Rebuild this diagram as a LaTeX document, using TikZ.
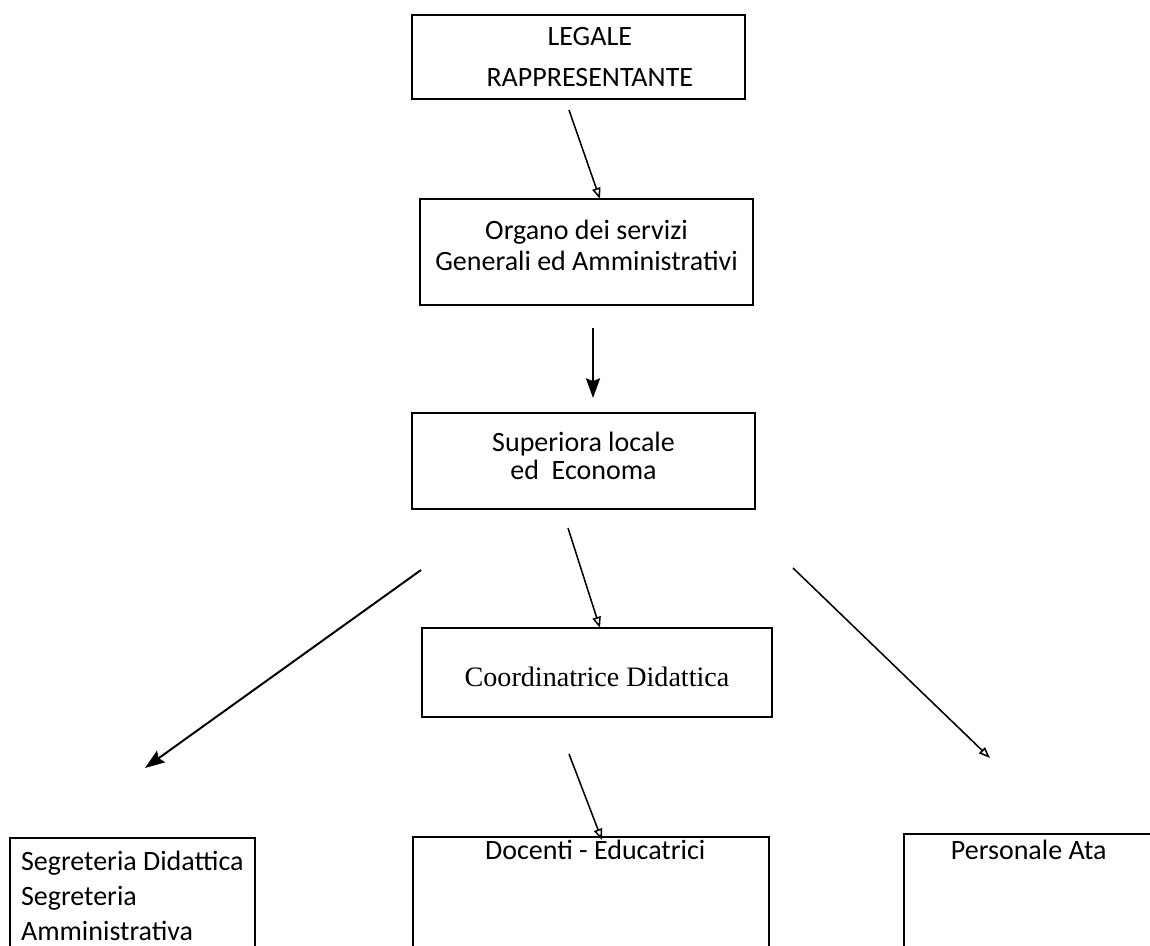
\documentclass[tikz,border=0pt]{standalone}
\usepackage{fontspec}
\setmainfont{Carlito}
\newfontfamily\serifrm{Liberation Serif}
\usetikzlibrary{arrows.meta,positioning}

\tikzset{
  box/.style={draw,line width=1.6pt,inner sep=0pt},
  txt/.style={inner sep=0pt,font=\fontsize{19.9}{22}\selectfont},
  link/.style={line width=1.1pt,-{Triangle[open,length=8pt,width=6pt]}},
  fatlink/.style={line width=1.4pt,-{Stealth[length=14pt,width=10pt,inset=2pt]}},
}

\begin{document}
\begin{tikzpicture}[x=0.025cm,y=-0.025cm]
  \useasboundingbox (0,0) rectangle (1150,946);

  %top chain
  \node[box,minimum width=8.325cm,minimum height=2.1cm] (legale) at (578.5,57) {};
  \node[txt,align=center,xshift=8pt] (legale-t) at (legale.center) {LEGALE\\[7pt]RAPPRESENTANTE};

  \node[box,minimum width=8.325cm,minimum height=2.65cm] (organo) at (586.5,252) {};
  \node[txt,align=center,yshift=5pt] (organo-t) at (organo.center) {Organo dei servizi\\Generali ed Amministrativi};

  \node[box,minimum width=8.575cm,minimum height=2.4cm] (superiora) at (583.5,461) {};
  \node[txt,align=center,yshift=3.5pt] (superiora-t) at (superiora.center) {Superiora locale\\[-2pt]ed~~Economa};

  \node[box,minimum width=8.75cm,minimum height=2.225cm] (coord) at (597,672.5) {};
  \node[txt,font=\serifrm\fontsize{20}{22}\selectfont,yshift=-3pt] (coord-t) at (coord.center) {Coordinatrice Didattica};

  %bottom row
  \node[box,minimum width=6.125cm,minimum height=4.05cm] (segr) at (132.5,919) {};
  \node[txt,align=left,below right=10pt and 8.5pt of segr.north west] (segr-t) {Segreteria Didattica\\[3pt]Segreteria\\[3pt]Amministrativa};

  \node[box,minimum width=8.9cm,minimum height=4.075cm] (docenti) at (591,918.5) {};
  \node[txt,below=3pt of docenti.north,xshift=3pt] (docenti-t) {Docenti - Educatrici};

  \node[box,minimum width=7.4cm,minimum height=4.15cm] (ata) at (1052,917) {};
  \node[txt,below right=5pt and 34pt of ata.north west] (ata-t) {Personale Ata};

  %arrows
  \coordinate (s1) at (569,110);
  \coordinate (e1) at (600,199);
  \coordinate (s2) at (593,328);
  \coordinate (e2) at (593,398);
  \coordinate (s3) at (568,528);
  \coordinate (e3) at (600,628);
  \coordinate (s4) at (421,570);
  \coordinate (e4) at (145,768);
  \coordinate (s5) at (793,568);
  \coordinate (e5) at (990,758);
  \coordinate (s6) at (569,754);
  \coordinate (e6) at (602,840);

  \draw[link] (s1) -- (e1);
  \draw[fatlink] (s2) -- (e2);
  \draw[link] (s3) -- (e3);
  \draw[fatlink] (s4) -- (e4);
  \draw[link] (s5) -- (e5);
  \draw[link] (s6) -- (e6);

\end{tikzpicture}
\end{document}
